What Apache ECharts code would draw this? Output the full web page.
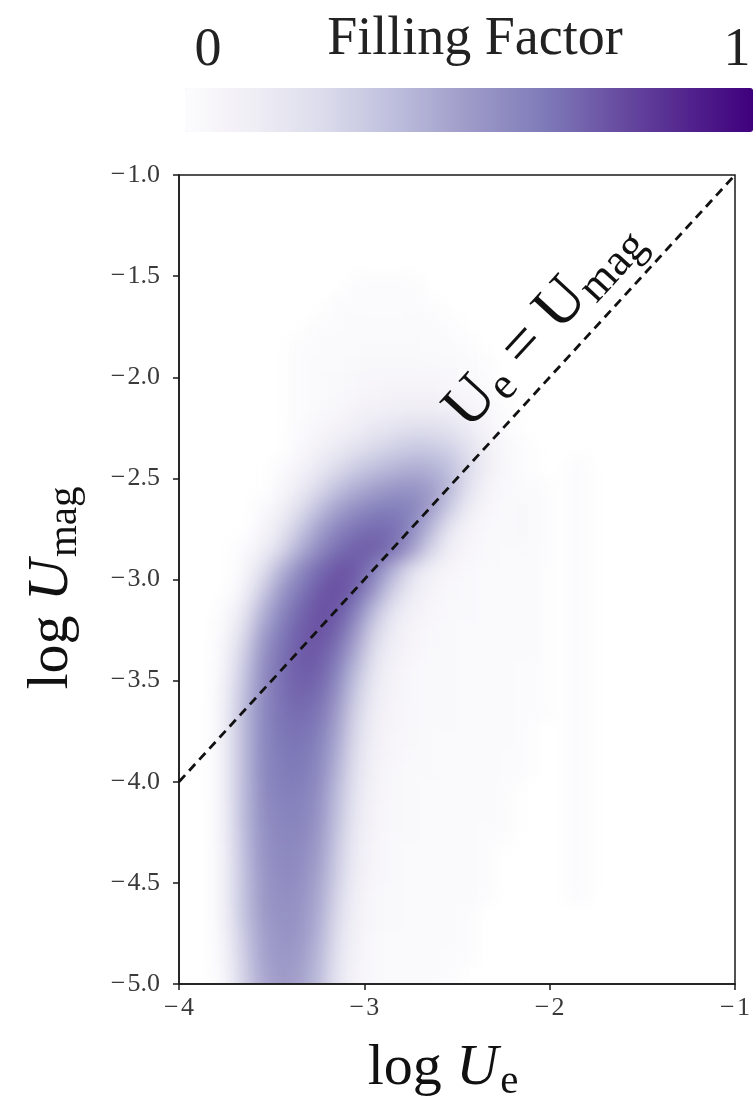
<!DOCTYPE html>
<html>
<head>
<meta charset="utf-8">
<script src="https://cdn.jsdelivr.net/npm/echarts@6/dist/echarts.min.js"></script>
<style>
  html, body { margin: 0; padding: 0; background: #fff; }
  #stage { position: relative; width: 753px; height: 1116px; overflow: hidden; }
  /* density layer sits under the axes, softened and clipped to the plot frame */
  #densClip { position: absolute; left: 179px; top: 175px; width: 556px; height: 809px; overflow: hidden; }
  #dens { position: absolute; left: -40px; top: -40px; width: 636px; height: 889px; filter: blur(9px); }
  #main { position: absolute; left: 0; top: 0; width: 753px; height: 1116px; }
</style>
</head>
<body>
<div id="stage">
  <div id="densClip"><div id="dens"></div></div>
  <div id="main"></div>
</div>
<script>
// ---- data -------------------------------------------------------------
// lower edges of the log U_e bins (width 0.1)
const xEdges = [-4.0, -3.9, -3.8, -3.7, -3.6, -3.5, -3.4, -3.3, -3.2, -3.1,
                -3.0, -2.9, -2.8, -2.7, -2.6, -2.5, -2.4, -2.3, -2.2, -2.1,
                -2.0, -1.9, -1.8, -1.7, -1.6, -1.5, -1.4, -1.3, -1.2, -1.1];
// lower edges of the log U_mag bins (height 0.1), bottom row first
const yEdges = [-5.0, -4.9, -4.8, -4.7, -4.6, -4.5, -4.4, -4.3, -4.2, -4.1,
                -4.0, -3.9, -3.8, -3.7, -3.6, -3.5, -3.4, -3.3, -3.2, -3.1,
                -3.0, -2.9, -2.8, -2.7, -2.6, -2.5, -2.4, -2.3, -2.2, -2.1,
                -2.0, -1.9, -1.8, -1.7, -1.6, -1.5, -1.4, -1.3, -1.2, -1.1];
// filling factor in percent, one row per yEdges entry, one column per xEdges entry
const fillRows = [
  [0,0,5,28,45,50,48,38,18,6,3,2,2,2,1,0,0,0,0,0,0,0,0,0,0,0,0,0,0,0],
  [0,0,6,30,47,52,50,40,20,7,3,2,2,2,1,1,0,0,0,0,0,0,0,0,0,0,0,0,0,0],
  [0,0,8,32,48,53,52,42,22,8,3,2,2,2,2,1,0,0,0,0,0,0,0,0,0,0,0,0,0,0],
  [0,0,10,34,50,54,53,44,25,9,4,3,2,2,2,1,0,0,0,0,0,0,0,0,0,0,0,0,0,0],
  [0,0,10,35,51,55,54,46,27,10,4,3,2,2,2,2,1,0,0,0,0,2,0,0,0,0,0,0,0,0],
  [0,0,10,35,52,56,56,48,30,12,5,3,2,2,2,2,1,0,0,0,0,2,0,0,0,0,0,0,0,0],
  [0,0,10,36,53,57,57,50,32,13,5,3,2,2,2,2,1,0,0,0,0,2,0,0,0,0,0,0,0,0],
  [0,0,11,37,54,58,58,52,34,14,6,3,3,2,2,2,1,1,0,0,0,2,0,0,0,0,0,0,0,0],
  [0,0,11,38,55,59,60,54,36,16,6,4,3,2,2,2,2,1,0,0,0,2,0,0,0,0,0,0,0,0],
  [0,0,12,38,56,61,61,56,38,18,7,4,3,2,2,2,2,1,0,0,0,2,0,0,0,0,0,0,0,0],
  [0,0,12,38,57,62,63,58,41,20,8,4,3,3,2,2,2,1,1,0,0,2,0,0,0,0,0,0,0,0],
  [0,0,12,38,57,63,64,60,44,22,9,5,3,3,2,2,2,1,1,0,0,2,0,0,0,0,0,0,0,0],
  [0,0,12,38,57,64,66,62,47,25,10,5,4,3,2,2,2,2,1,0,0,2,0,0,0,0,0,0,0,0],
  [0,0,12,37,57,65,68,65,50,28,12,6,4,3,3,2,2,2,1,1,0,2,0,0,0,0,0,0,0,0],
  [0,0,10,35,56,66,70,68,55,32,14,7,4,3,3,2,2,2,1,1,0,2,0,0,0,0,0,0,0,0],
  [0,0,8,32,55,66,72,71,60,38,17,8,4,3,3,2,2,2,1,1,0,2,0,0,0,0,0,0,0,0],
  [0,0,6,28,52,65,72,73,65,45,22,10,5,3,3,2,2,2,2,1,0,2,0,0,0,0,0,0,0,0],
  [0,0,4,22,47,62,71,75,70,52,28,13,6,4,3,2,2,2,2,1,0,2,0,0,0,0,0,0,0,0],
  [0,0,2,15,40,57,68,75,74,62,38,19,9,5,3,3,2,2,2,1,0,2,0,0,0,0,0,0,0,0],
  [0,0,0,8,30,50,63,72,76,70,52,30,15,7,4,3,2,2,2,1,0,2,0,0,0,0,0,0,0,0],
  [0,0,0,4,20,40,56,67,74,73,62,42,22,10,5,3,2,2,2,1,0,2,0,0,0,0,0,0,0,0],
  [0,0,0,2,10,25,42,56,66,71,71,66,50,28,12,5,3,2,2,2,0,2,0,0,0,0,0,0,0,0],
  [0,0,0,0,5,16,32,47,58,65,68,67,58,40,18,7,3,2,4,2,0,2,0,0,0,0,0,0,0,0],
  [0,0,0,0,2,9,22,36,47,55,60,62,60,50,32,14,5,2,4,2,0,2,0,0,0,0,0,0,0,0],
  [0,0,0,0,0,4,13,25,35,43,48,52,54,50,40,22,8,3,2,1,0,2,0,0,0,0,0,0,0,0],
  [0,0,0,0,0,2,7,15,24,31,36,40,43,42,37,26,12,4,1,0,0,2,0,0,0,0,0,0,0,0],
  [0,0,0,0,0,0,3,8,14,20,25,29,32,32,29,22,11,4,1,0,0,0,0,0,0,0,0,0,0,0],
  [0,0,0,0,0,0,2,4,8,12,16,19,22,22,20,14,7,2,0,0,0,0,0,0,0,0,0,0,0,0],
  [0,0,0,0,0,0,1,2,4,7,9,11,12,12,11,8,4,1,0,0,0,0,0,0,0,0,0,0,0,0],
  [0,0,0,0,0,0,1,2,3,4,5,6,6,6,5,3,2,0,0,0,0,0,0,0,0,0,0,0,0,0],
  [0,0,0,0,0,0,1,2,2,3,4,4,4,4,3,2,1,0,0,0,0,0,0,0,0,0,0,0,0,0],
  [0,0,0,0,0,0,1,1,2,2,3,3,3,2,2,1,0,0,0,0,0,0,0,0,0,0,0,0,0,0],
  [0,0,0,0,0,0,0,1,1,2,2,2,2,2,1,0,0,0,0,0,0,0,0,0,0,0,0,0,0,0],
  [0,0,0,0,0,0,0,0,1,1,1,1,1,1,0,0,0,0,0,0,0,0,0,0,0,0,0,0,0,0],
  [0,0,0,0,0,0,0,0,0,1,1,1,1,0,0,0,0,0,0,0,0,0,0,0,0,0,0,0,0,0],
  [0,0,0,0,0,0,0,0,0,0,0,0,0,0,0,0,0,0,0,0,0,0,0,0,0,0,0,0,0,0],
  [0,0,0,0,0,0,0,0,0,0,0,0,0,0,0,0,0,0,0,0,0,0,0,0,0,0,0,0,0,0],
  [0,0,0,0,0,0,0,0,0,0,0,0,0,0,0,0,0,0,0,0,0,0,0,0,0,0,0,0,0,0],
  [0,0,0,0,0,0,0,0,0,0,0,0,0,0,0,0,0,0,0,0,0,0,0,0,0,0,0,0,0,0],
  [0,0,0,0,0,0,0,0,0,0,0,0,0,0,0,0,0,0,0,0,0,0,0,0,0,0,0,0,0,0]
];
// U_e = U_mag reference line
const equalityLine = [[-4, -4], [-1, -1]];
// point on the line where its caption sits
const captionAt = [-1.875, -1.875];
// colour bar range and caption
const colorRange = [0, 1];
const colorTitle = 'Filling Factor';

// ---- settings ---------------------------------------------------------
const BIN_W = 0.1, BIN_H = 0.1;
const X_MIN = -4, X_MAX = -1, Y_MIN = -5, Y_MAX = -1;
const PURPLES = ['#fcfbfd', '#efedf5', '#dadaeb', '#bcbddc', '#9e9ac8',
                 '#807dba', '#6a51a3', '#54278f', '#3f007d'];
const SERIF = '"Liberation Serif", "DejaVu Serif", serif';
const INK = '#111';
const EDGE_PAD = 40;

const cells = [];
fillRows.forEach((row, r) => {
  row.forEach((v, c) => {
    if (v > 0) cells.push([xEdges[c], yEdges[r], v / 100]);
  });
});

// ---- density layer ----------------------------------------------------
const dens = echarts.init(document.getElementById('dens'));
dens.setOption({
  animation: false,
  grid: { left: EDGE_PAD, top: EDGE_PAD, right: EDGE_PAD, bottom: EDGE_PAD },
  xAxis: { type: 'value', min: X_MIN, max: X_MAX, show: false },
  yAxis: { type: 'value', min: Y_MIN, max: Y_MAX, show: false },
  visualMap: {
    show: false, type: 'continuous', min: colorRange[0], max: colorRange[1],
    dimension: 2, seriesIndex: 0, inRange: { color: PURPLES }
  },
  series: [{
    type: 'custom',
    clip: false,
    silent: true,
    encode: { x: 0, y: 1 },
    data: cells,
    renderItem: function (params, api) {
      const x0 = api.value(0), y0 = api.value(1);
      const tl = api.coord([x0, y0 + BIN_H]);
      const br = api.coord([x0 + BIN_W, y0]);
      let l = tl[0], t = tl[1], r = br[0], b = br[1];
      // outermost bins run past the frame so the softening keeps their strength at the border
      if (x0 <= X_MIN + 1e-9) l -= EDGE_PAD;
      if (x0 + BIN_W >= X_MAX - 1e-9) r += EDGE_PAD;
      if (y0 <= Y_MIN + 1e-9) b += EDGE_PAD;
      if (y0 + BIN_H >= Y_MAX - 1e-9) t -= EDGE_PAD;
      return {
        type: 'rect',
        shape: { x: l, y: t, width: r - l + 0.6, height: b - t + 0.6 },
        style: { fill: api.visual('color') }
      };
    }
  }]
});

// ---- axes, reference line, colour bar ---------------------------------
function tickText(v, digits) {
  return (v < 0 ? '\u2212\u200a' : '') + Math.abs(v).toFixed(digits);
}
const axisStyle = { color: '#1a1a1a', width: 1.5 };
const tickFont = { fontFamily: SERIF, fontSize: 26, color: '#3a3a3a' };
const main = echarts.init(document.getElementById('main'));
main.setOption({
  animation: false,
  grid: { left: 179, top: 175, right: 18, bottom: 132, show: true,
          borderColor: '#1a1a1a', borderWidth: 1.5 },
  xAxis: {
    type: 'value', min: X_MIN, max: X_MAX, interval: 1,
    axisLine: { show: true, onZero: false, lineStyle: axisStyle },
    axisTick: { show: true, length: 6, lineStyle: axisStyle },
    splitLine: { show: false },
    axisLabel: Object.assign({ margin: 11, formatter: v => tickText(v, 0) }, tickFont)
  },
  yAxis: {
    type: 'value', min: Y_MIN, max: Y_MAX, interval: 0.5,
    axisLine: { show: true, onZero: false, lineStyle: axisStyle },
    axisTick: { show: true, length: 6, lineStyle: axisStyle },
    splitLine: { show: false },
    axisLabel: Object.assign({ margin: 19, formatter: v => tickText(v, 1) }, tickFont)
  },
  visualMap: {
    type: 'continuous', seriesIndex: [], min: colorRange[0], max: colorRange[1],
    orient: 'horizontal', left: 185, top: 88, padding: 0,
    itemWidth: 44, itemHeight: 568, text: null, calculable: false, hoverLink: false,
    inRange: { color: PURPLES }
  },
  series: [{
    type: 'line', data: equalityLine, symbol: 'none', silent: true, z: 5,
    lineStyle: { color: INK, width: 2.8, type: [9, 6] }
  }]
});

// captions: colour bar, axis titles, line label
const p0 = main.convertToPixel({ gridIndex: 0 }, equalityLine[0]);
const p1 = main.convertToPixel({ gridIndex: 0 }, equalityLine[1]);
const dx = p1[0] - p0[0], dy = p1[1] - p0[1];
const len = Math.hypot(dx, dy);
const angle = Math.atan2(-dy, dx);
const anchor = main.convertToPixel({ gridIndex: 0 }, captionAt);
const LABEL_GAP = 40;                       // offset towards the upper-left side of the line
const labelX = anchor[0] + (dy / len) * LABEL_GAP;
const labelY = anchor[1] - (dx / len) * LABEL_GAP;

const titleRich = {
  r: { fontFamily: SERIF, fontSize: 58, fill: INK },
  i: { fontFamily: SERIF, fontSize: 58, fontStyle: 'italic', fill: INK },
  s: { fontFamily: SERIF, fontSize: 41, fill: INK, padding: [27, 0, 0, 2] }
};
const barText = { fontFamily: SERIF, fontSize: 54, fill: '#222', align: 'center', verticalAlign: 'middle' };

main.setOption({
  graphic: [
    { type: 'text', x: 475, y: 40, style: Object.assign({ text: colorTitle }, barText) },
    { type: 'text', x: 208, y: 51, style: Object.assign({ text: String(colorRange[0]) }, barText) },
    { type: 'text', x: 737, y: 51, style: Object.assign({ text: String(colorRange[1]) }, barText) },
    { type: 'text', x: 52, y: 588, rotation: Math.PI / 2,
      style: { text: '{r|log }{i|U}{s|mag}', align: 'center', verticalAlign: 'middle', rich: titleRich } },
    { type: 'text', x: 443, y: 1069,
      style: { text: '{r|log }{i|U}{s|e}', align: 'center', verticalAlign: 'middle', rich: titleRich } },
    { type: 'text', x: labelX, y: labelY, rotation: angle,
      style: { text: '{u|U}{s|e}{u| = U}{s|mag}', align: 'center', verticalAlign: 'middle',
        rich: {
          u: { fontFamily: SERIF, fontSize: 63, fill: INK },
          s: { fontFamily: SERIF, fontSize: 45, fill: INK, padding: [26, 0, 0, 1] }
        } } }
  ]
});
</script>
</body>
</html>
